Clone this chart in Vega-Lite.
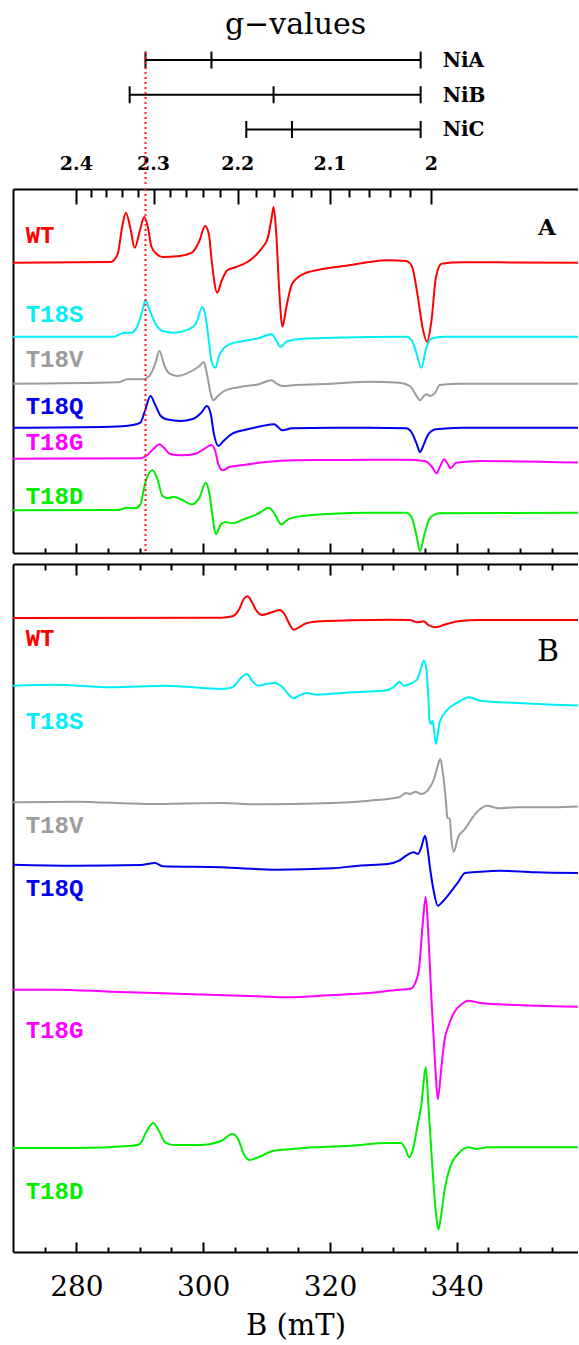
{
  "$schema": "https://vega.github.io/schema/vega-lite/v6.json",
  "background": "white",
  "padding": {"left": 13, "top": 10, "right": 0, "bottom": 0},
  "config": {
    "view": {"stroke": null},
    "font": "DejaVu Serif",
    "axis": {"grid": false, "domain": false, "tickColor": "black", "tickWidth": 2, "domainColor": "black", "domainWidth": 2}
  },
  "datasets": {
    "bars": [
      {"center": "NiA", "lo": 290.9, "hi": 334.3},
      {"center": "NiB", "lo": 288.4, "hi": 334.3},
      {"center": "NiC", "lo": 306.8, "hi": 334.3}
    ],
    "gmarks": [
      {"center": "NiA", "B": 290.9}, {"center": "NiA", "B": 301.3}, {"center": "NiA", "B": 334.3},
      {"center": "NiB", "B": 288.4}, {"center": "NiB", "B": 311.1}, {"center": "NiB", "B": 334.3},
      {"center": "NiC", "B": 306.8}, {"center": "NiC", "B": 314.0}, {"center": "NiC", "B": 334.3}
    ],
    "glabels": [
      {"g": "2.4", "B": 280}, {"g": "2.3", "B": 292.17}, {"g": "2.2", "B": 305.45}, {"g": "2.1", "B": 320}, {"g": "2", "B": 336}
    ],
    "ref": [{"g": 2.31, "B": 290.9}],
    "labA": [
      {"s": "WT", "h": 317}, {"s": "T18S", "h": 238}, {"s": "T18V", "h": 193},
      {"s": "T18Q", "h": 146}, {"s": "T18G", "h": 110}, {"s": "T18D", "h": 56}
    ],
    "labB": [
      {"s": "WT", "h": 613}, {"s": "T18S", "h": 530}, {"s": "T18V", "h": 426},
      {"s": "T18Q", "h": 363}, {"s": "T18G", "h": 221}, {"s": "T18D", "h": 60}
    ],
    "a": [
      {"s":"WT","B":270,"h":290.3},{"s":"WT","B":285.4,"h":291},{"s":"WT","B":286.5,"h":298.7},{"s":"WT","B":287.2,"h":325.3},{"s":"WT","B":287.8,"h":340.3},{"s":"WT","B":288.5,"h":325.3},{"s":"WT","B":289.2,"h":305.3},{"s":"WT","B":290.0,"h":322},{"s":"WT","B":290.7,"h":336},{"s":"WT","B":291.3,"h":325.3},{"s":"WT","B":291.8,"h":307},{"s":"WT","B":292.7,"h":298.7},{"s":"WT","B":293.6,"h":296},{"s":"WT","B":295.9,"h":296.7},{"s":"WT","B":298.2,"h":300.3},{"s":"WT","B":299.4,"h":312},{"s":"WT","B":300.3,"h":327},{"s":"WT","B":300.9,"h":318.7},{"s":"WT","B":301.4,"h":288.7},{"s":"WT","B":302.2,"h":260.3},{"s":"WT","B":302.9,"h":272},{"s":"WT","B":303.8,"h":282.7},{"s":"WT","B":305.2,"h":286},{"s":"WT","B":307.6,"h":293.7},{"s":"WT","B":309.3,"h":305.3},{"s":"WT","B":310.2,"h":315.3},{"s":"WT","B":310.8,"h":335.3},{"s":"WT","B":311.1,"h":346},{"s":"WT","B":311.5,"h":322},{"s":"WT","B":312.0,"h":262},{"s":"WT","B":312.5,"h":226.3},{"s":"WT","B":313.1,"h":245.3},{"s":"WT","B":314.0,"h":268.7},{"s":"WT","B":315.7,"h":278.7},{"s":"WT","B":318.6,"h":283.7},{"s":"WT","B":323.3,"h":288},{"s":"WT","B":326.2,"h":291},{"s":"WT","B":329.1,"h":292.7},{"s":"WT","B":332.0,"h":292},{"s":"WT","B":332.9,"h":287},{"s":"WT","B":333.8,"h":258.7},{"s":"WT","B":334.6,"h":225.3},{"s":"WT","B":335.3,"h":211.3},{"s":"WT","B":336.0,"h":232},{"s":"WT","B":336.7,"h":275.3},{"s":"WT","B":337.6,"h":289.3},{"s":"WT","B":340.8,"h":290.7},{"s":"WT","B":360,"h":290.3},
      {"s":"T18S","B":270,"h":216.3},{"s":"T18S","B":286.0,"h":216.3},{"s":"T18S","B":286.6,"h":218},{"s":"T18S","B":287.5,"h":220.3},{"s":"T18S","B":288.6,"h":220.3},{"s":"T18S","B":289.5,"h":225.3},{"s":"T18S","B":290.4,"h":242},{"s":"T18S","B":290.9,"h":253},{"s":"T18S","B":291.5,"h":243.7},{"s":"T18S","B":292.4,"h":230.3},{"s":"T18S","B":293.6,"h":222},{"s":"T18S","B":295.3,"h":220.3},{"s":"T18S","B":297.7,"h":223.7},{"s":"T18S","B":298.8,"h":228.7},{"s":"T18S","B":299.9,"h":246},{"s":"T18S","B":300.3,"h":238.7},{"s":"T18S","B":300.9,"h":212},{"s":"T18S","B":301.3,"h":192},{"s":"T18S","B":301.9,"h":185.3},{"s":"T18S","B":302.6,"h":198.7},{"s":"T18S","B":304.1,"h":208.7},{"s":"T18S","B":306.4,"h":212},{"s":"T18S","B":308.7,"h":214.7},{"s":"T18S","B":310.8,"h":218.7},{"s":"T18S","B":311.5,"h":212.7},{"s":"T18S","B":312.2,"h":206},{"s":"T18S","B":313.1,"h":211.3},{"s":"T18S","B":315.7,"h":214.3},{"s":"T18S","B":320.4,"h":215.3},{"s":"T18S","B":326.2,"h":216},{"s":"T18S","B":332.0,"h":216.3},{"s":"T18S","B":332.9,"h":212.7},{"s":"T18S","B":333.7,"h":198.7},{"s":"T18S","B":334.4,"h":185.3},{"s":"T18S","B":335.2,"h":205.3},{"s":"T18S","B":336.1,"h":214.7},{"s":"T18S","B":337.9,"h":216.3},{"s":"T18S","B":360,"h":216.3},
      {"s":"T18V","B":270,"h":169.3},{"s":"T18V","B":286.6,"h":170.7},{"s":"T18V","B":288.0,"h":173.7},{"s":"T18V","B":290.4,"h":173.7},{"s":"T18V","B":291.5,"h":177},{"s":"T18V","B":292.4,"h":188.7},{"s":"T18V","B":293.1,"h":202},{"s":"T18V","B":293.9,"h":187},{"s":"T18V","B":294.7,"h":179.3},{"s":"T18V","B":295.9,"h":177},{"s":"T18V","B":297.7,"h":180.3},{"s":"T18V","B":299.4,"h":187},{"s":"T18V","B":300.1,"h":191},{"s":"T18V","B":300.6,"h":178.7},{"s":"T18V","B":301.2,"h":158.7},{"s":"T18V","B":301.6,"h":152.7},{"s":"T18V","B":302.3,"h":157},{"s":"T18V","B":303.5,"h":162.7},{"s":"T18V","B":305.8,"h":166},{"s":"T18V","B":308.7,"h":168.7},{"s":"T18V","B":310.8,"h":172.7},{"s":"T18V","B":311.6,"h":169.3},{"s":"T18V","B":312.5,"h":167},{"s":"T18V","B":314.5,"h":168},{"s":"T18V","B":320.4,"h":169.3},{"s":"T18V","B":326.2,"h":171.3},{"s":"T18V","B":330.9,"h":170.3},{"s":"T18V","B":332.6,"h":167},{"s":"T18V","B":333.5,"h":158.7},{"s":"T18V","B":334.2,"h":152.7},{"s":"T18V","B":334.8,"h":157},{"s":"T18V","B":335.2,"h":158.7},{"s":"T18V","B":335.8,"h":157},{"s":"T18V","B":336.6,"h":160.3},{"s":"T18V","B":337.3,"h":168},{"s":"T18V","B":340.8,"h":169.3},{"s":"T18V","B":360,"h":169.3},
      {"s":"T18Q","B":270,"h":125.3},{"s":"T18Q","B":285.4,"h":126.3},{"s":"T18Q","B":288.9,"h":128},{"s":"T18Q","B":290.1,"h":130.3},{"s":"T18Q","B":290.8,"h":142},{"s":"T18Q","B":291.7,"h":157},{"s":"T18Q","B":292.4,"h":148.7},{"s":"T18Q","B":293.3,"h":137},{"s":"T18Q","B":294.2,"h":133.7},{"s":"T18Q","B":296.5,"h":132},{"s":"T18Q","B":298.2,"h":133.7},{"s":"T18Q","B":299.7,"h":140.3},{"s":"T18Q","B":300.6,"h":147},{"s":"T18Q","B":301.2,"h":138.7},{"s":"T18Q","B":301.7,"h":118.7},{"s":"T18Q","B":302.4,"h":107},{"s":"T18Q","B":303.2,"h":112},{"s":"T18Q","B":304.6,"h":119.3},{"s":"T18Q","B":307.0,"h":123.7},{"s":"T18Q","B":309.3,"h":127},{"s":"T18Q","B":311.2,"h":128.7},{"s":"T18Q","B":311.9,"h":125.3},{"s":"T18Q","B":312.5,"h":122.7},{"s":"T18Q","B":314.0,"h":124.7},{"s":"T18Q","B":320.4,"h":125.3},{"s":"T18Q","B":326.2,"h":125.3},{"s":"T18Q","B":332.0,"h":124.7},{"s":"T18Q","B":332.9,"h":120.3},{"s":"T18Q","B":333.7,"h":108.7},{"s":"T18Q","B":334.2,"h":101},{"s":"T18Q","B":334.8,"h":108.7},{"s":"T18Q","B":335.5,"h":118.7},{"s":"T18Q","B":336.7,"h":123.7},{"s":"T18Q","B":340.8,"h":125.3},{"s":"T18Q","B":360,"h":125.3},
      {"s":"T18G","B":270,"h":94.3},{"s":"T18G","B":290.1,"h":94.7},{"s":"T18G","B":291.0,"h":97},{"s":"T18G","B":292.1,"h":103.7},{"s":"T18G","B":293.1,"h":108.7},{"s":"T18G","B":293.9,"h":104.7},{"s":"T18G","B":294.7,"h":99.3},{"s":"T18G","B":296.5,"h":97.7},{"s":"T18G","B":298.8,"h":99.3},{"s":"T18G","B":300.3,"h":104.7},{"s":"T18G","B":301.3,"h":108},{"s":"T18G","B":301.9,"h":102},{"s":"T18G","B":302.4,"h":88.7},{"s":"T18G","B":303.1,"h":82.7},{"s":"T18G","B":304.1,"h":86},{"s":"T18G","B":306.4,"h":88},{"s":"T18G","B":309.9,"h":91},{"s":"T18G","B":314.5,"h":92.7},{"s":"T18G","B":320.4,"h":93},{"s":"T18G","B":326.2,"h":93.3},{"s":"T18G","B":332.0,"h":93.3},{"s":"T18G","B":334.9,"h":92},{"s":"T18G","B":336.1,"h":86},{"s":"T18G","B":336.8,"h":79.7},{"s":"T18G","B":337.4,"h":87},{"s":"T18G","B":338.0,"h":93.7},{"s":"T18G","B":338.6,"h":88.7},{"s":"T18G","B":339.0,"h":84.7},{"s":"T18G","B":339.9,"h":90.3},{"s":"T18G","B":343.7,"h":92},{"s":"T18G","B":360,"h":90.3},
      {"s":"T18D","B":270,"h":42.7},{"s":"T18D","B":286.6,"h":43},{"s":"T18D","B":288.0,"h":45.3},{"s":"T18D","B":289.2,"h":44.7},{"s":"T18D","B":290.1,"h":48.7},{"s":"T18D","B":290.8,"h":68.7},{"s":"T18D","B":292.0,"h":82.7},{"s":"T18D","B":292.7,"h":75.3},{"s":"T18D","B":293.6,"h":57},{"s":"T18D","B":294.5,"h":54.7},{"s":"T18D","B":295.3,"h":56.3},{"s":"T18D","B":296.5,"h":53.7},{"s":"T18D","B":298.2,"h":48.7},{"s":"T18D","B":299.4,"h":55.3},{"s":"T18D","B":300.4,"h":70.3},{"s":"T18D","B":301.0,"h":58.7},{"s":"T18D","B":301.5,"h":35.3},{"s":"T18D","B":302.0,"h":18.7},{"s":"T18D","B":302.8,"h":28.7},{"s":"T18D","B":303.5,"h":31},{"s":"T18D","B":304.6,"h":29.7},{"s":"T18D","B":306.4,"h":33.7},{"s":"T18D","B":308.7,"h":39.3},{"s":"T18D","B":310.4,"h":45.3},{"s":"T18D","B":311.3,"h":38.7},{"s":"T18D","B":312.3,"h":28.7},{"s":"T18D","B":313.4,"h":33.7},{"s":"T18D","B":315.7,"h":37},{"s":"T18D","B":320.4,"h":39.3},{"s":"T18D","B":326.2,"h":40.3},{"s":"T18D","B":332.0,"h":40.3},{"s":"T18D","B":332.9,"h":35.3},{"s":"T18D","B":333.6,"h":18.7},{"s":"T18D","B":334.2,"h":2},{"s":"T18D","B":334.9,"h":18.7},{"s":"T18D","B":335.8,"h":35.3},{"s":"T18D","B":337.3,"h":39.7},{"s":"T18D","B":360,"h":40.3}
    ],
    "b": [
      {"s":"WT","B":270,"h":634},{"s":"WT","B":302.9,"h":634.3},{"s":"WT","B":304.6,"h":635.7},{"s":"WT","B":305.7,"h":643},{"s":"WT","B":306.4,"h":653},{"s":"WT","B":307.0,"h":655.7},{"s":"WT","B":307.7,"h":649.7},{"s":"WT","B":308.4,"h":641.3},{"s":"WT","B":309.3,"h":637},{"s":"WT","B":310.5,"h":639},{"s":"WT","B":312.1,"h":642},{"s":"WT","B":312.8,"h":638},{"s":"WT","B":313.6,"h":628},{"s":"WT","B":314.3,"h":622.3},{"s":"WT","B":315.1,"h":624.7},{"s":"WT","B":316.3,"h":628.7},{"s":"WT","B":318.6,"h":630.7},{"s":"WT","B":323.3,"h":631.7},{"s":"WT","B":329.1,"h":632.3},{"s":"WT","B":332.6,"h":632},{"s":"WT","B":333.8,"h":629.7},{"s":"WT","B":334.8,"h":630.7},{"s":"WT","B":335.5,"h":627},{"s":"WT","B":336.7,"h":624.7},{"s":"WT","B":337.9,"h":627},{"s":"WT","B":340.2,"h":630.7},{"s":"WT","B":343.7,"h":632},{"s":"WT","B":360,"h":632},
      {"s":"T18S","B":270,"h":566.3},{"s":"T18S","B":276.7,"h":567.3},{"s":"T18S","B":285.4,"h":564.7},{"s":"T18S","B":294.2,"h":566.3},{"s":"T18S","B":302.9,"h":563},{"s":"T18S","B":304.6,"h":564.7},{"s":"T18S","B":305.8,"h":573},{"s":"T18S","B":306.9,"h":578},{"s":"T18S","B":307.7,"h":571.3},{"s":"T18S","B":308.7,"h":566.3},{"s":"T18S","B":309.9,"h":568},{"s":"T18S","B":311.3,"h":569},{"s":"T18S","B":312.5,"h":564.7},{"s":"T18S","B":313.4,"h":558},{"s":"T18S","B":314.3,"h":553.7},{"s":"T18S","B":315.1,"h":556.3},{"s":"T18S","B":316.3,"h":559},{"s":"T18S","B":318.0,"h":557.3},{"s":"T18S","B":323.3,"h":559.7},{"s":"T18S","B":328.5,"h":561.3},{"s":"T18S","B":330.0,"h":564.7},{"s":"T18S","B":331.0,"h":570.3},{"s":"T18S","B":331.6,"h":566.3},{"s":"T18S","B":332.6,"h":568},{"s":"T18S","B":333.8,"h":573},{"s":"T18S","B":334.4,"h":584.7},{"s":"T18S","B":334.8,"h":591.3},{"s":"T18S","B":335.2,"h":583},{"s":"T18S","B":335.5,"h":556.3},{"s":"T18S","B":335.7,"h":531.3},{"s":"T18S","B":336.0,"h":528},{"s":"T18S","B":336.2,"h":531.3},{"s":"T18S","B":336.7,"h":508},{"s":"T18S","B":337.3,"h":529.7},{"s":"T18S","B":338.4,"h":541.3},{"s":"T18S","B":340.2,"h":549.7},{"s":"T18S","B":341.9,"h":554.7},{"s":"T18S","B":343.7,"h":551.3},{"s":"T18S","B":349.5,"h":549},{"s":"T18S","B":355.3,"h":547.3},{"s":"T18S","B":360,"h":546.3},
      {"s":"T18V","B":270,"h":449.7},{"s":"T18V","B":279.6,"h":450.3},{"s":"T18V","B":291.3,"h":448},{"s":"T18V","B":302.9,"h":449},{"s":"T18V","B":308.7,"h":447.7},{"s":"T18V","B":320.4,"h":449},{"s":"T18V","B":326.2,"h":451.3},{"s":"T18V","B":330.9,"h":454.7},{"s":"T18V","B":332.0,"h":459},{"s":"T18V","B":332.6,"h":458},{"s":"T18V","B":333.5,"h":460.3},{"s":"T18V","B":334.4,"h":458},{"s":"T18V","B":335.5,"h":462.3},{"s":"T18V","B":336.4,"h":473},{"s":"T18V","B":337.0,"h":486.3},{"s":"T18V","B":337.4,"h":493},{"s":"T18V","B":337.8,"h":479.7},{"s":"T18V","B":338.3,"h":449.7},{"s":"T18V","B":338.5,"h":434.7},{"s":"T18V","B":338.9,"h":433},{"s":"T18V","B":339.1,"h":416.3},{"s":"T18V","B":339.5,"h":400.3},{"s":"T18V","B":340.2,"h":414.7},{"s":"T18V","B":341.3,"h":423},{"s":"T18V","B":342.5,"h":434.7},{"s":"T18V","B":343.7,"h":443},{"s":"T18V","B":344.8,"h":446.3},{"s":"T18V","B":346.6,"h":443.7},{"s":"T18V","B":349.5,"h":444.7},{"s":"T18V","B":355.3,"h":444.7},{"s":"T18V","B":360,"h":445.7},
      {"s":"T18Q","B":270,"h":387.3},{"s":"T18Q","B":279.6,"h":386.3},{"s":"T18Q","B":290.1,"h":387},{"s":"T18Q","B":292.4,"h":389},{"s":"T18Q","B":293.6,"h":385.7},{"s":"T18Q","B":302.9,"h":384.7},{"s":"T18Q","B":311.6,"h":382.3},{"s":"T18Q","B":320.4,"h":383.7},{"s":"T18Q","B":324.5,"h":386.3},{"s":"T18Q","B":329.1,"h":388},{"s":"T18Q","B":330.9,"h":391.3},{"s":"T18Q","B":332.0,"h":396.3},{"s":"T18Q","B":333.2,"h":399.7},{"s":"T18Q","B":333.9,"h":398},{"s":"T18Q","B":334.4,"h":404.7},{"s":"T18Q","B":335.0,"h":416.3},{"s":"T18Q","B":335.4,"h":403},{"s":"T18Q","B":335.8,"h":383},{"s":"T18Q","B":336.4,"h":359.7},{"s":"T18Q","B":337.0,"h":346.3},{"s":"T18Q","B":337.9,"h":351.3},{"s":"T18Q","B":339.0,"h":359.7},{"s":"T18Q","B":340.2,"h":369.7},{"s":"T18Q","B":341.3,"h":379},{"s":"T18Q","B":343.7,"h":380.3},{"s":"T18Q","B":346.6,"h":381.3},{"s":"T18Q","B":352.4,"h":379.7},{"s":"T18Q","B":360,"h":379},
      {"s":"T18G","B":270,"h":262.3},{"s":"T18G","B":276.7,"h":262.3},{"s":"T18G","B":285.4,"h":260.3},{"s":"T18G","B":297.1,"h":258},{"s":"T18G","B":308.7,"h":255.7},{"s":"T18G","B":313.4,"h":254.7},{"s":"T18G","B":320.4,"h":257},{"s":"T18G","B":326.2,"h":259},{"s":"T18G","B":330.9,"h":262.3},{"s":"T18G","B":332.6,"h":263},{"s":"T18G","B":333.5,"h":269.7},{"s":"T18G","B":334.1,"h":286.3},{"s":"T18G","B":334.6,"h":326.3},{"s":"T18G","B":335.1,"h":355},{"s":"T18G","B":335.5,"h":319.7},{"s":"T18G","B":336.0,"h":253},{"s":"T18G","B":336.6,"h":186.3},{"s":"T18G","B":337.0,"h":153},{"s":"T18G","B":337.6,"h":186.3},{"s":"T18G","B":338.1,"h":213},{"s":"T18G","B":338.7,"h":226.3},{"s":"T18G","B":339.6,"h":239.7},{"s":"T18G","B":340.8,"h":248},{"s":"T18G","B":341.8,"h":251.3},{"s":"T18G","B":343.7,"h":249},{"s":"T18G","B":349.5,"h":247},{"s":"T18G","B":355.3,"h":245.7},{"s":"T18G","B":360,"h":245.3},
      {"s":"T18D","B":270,"h":104},{"s":"T18D","B":279.6,"h":104},{"s":"T18D","B":288.9,"h":106.3},{"s":"T18D","B":290.0,"h":108},{"s":"T18D","B":291.0,"h":119.7},{"s":"T18D","B":292.1,"h":129},{"s":"T18D","B":293.0,"h":121.3},{"s":"T18D","B":294.0,"h":109.7},{"s":"T18D","B":295.3,"h":107},{"s":"T18D","B":299.4,"h":107},{"s":"T18D","B":302.9,"h":111.3},{"s":"T18D","B":304.6,"h":118},{"s":"T18D","B":305.5,"h":113},{"s":"T18D","B":306.4,"h":98},{"s":"T18D","B":307.3,"h":92},{"s":"T18D","B":308.7,"h":94.7},{"s":"T18D","B":311.1,"h":101.3},{"s":"T18D","B":314.0,"h":103},{"s":"T18D","B":317.5,"h":104.7},{"s":"T18D","B":323.3,"h":106.3},{"s":"T18D","B":329.1,"h":109},{"s":"T18D","B":331.2,"h":109},{"s":"T18D","B":331.9,"h":103},{"s":"T18D","B":332.5,"h":94.7},{"s":"T18D","B":333.1,"h":103},{"s":"T18D","B":333.8,"h":126.3},{"s":"T18D","B":334.4,"h":146.3},{"s":"T18D","B":335.1,"h":185},{"s":"T18D","B":335.5,"h":149.7},{"s":"T18D","B":336.1,"h":89.7},{"s":"T18D","B":336.7,"h":39.7},{"s":"T18D","B":337.1,"h":22.3},{"s":"T18D","B":337.6,"h":39.7},{"s":"T18D","B":338.1,"h":63},{"s":"T18D","B":339.0,"h":86},{"s":"T18D","B":340.2,"h":98},{"s":"T18D","B":341.9,"h":104.7},{"s":"T18D","B":343.1,"h":103},{"s":"T18D","B":344.8,"h":104.7},{"s":"T18D","B":360,"h":104.7}
    ]
  },
  "spacing": 0,
  "vconcat": [
    {
      "width": 565,
      "height": 135,
      "title": {"text": "g−values", "fontSize": 30, "fontWeight": "normal", "font": "DejaVu Serif", "anchor": "middle", "offset": 11, "color": "black"},
      "layer": [
        {
          "data": {"name": "bars"},
          "mark": {"type": "rule", "strokeWidth": 2, "color": "black"},
          "encoding": {
            "x": {"field": "lo", "type": "quantitative", "scale": {"domain": [270, 359.12], "nice": false, "zero": false}, "axis": null},
            "x2": {"field": "hi"},
            "y": {"field": "center", "type": "ordinal", "scale": {"type": "point", "domain": ["NiA", "NiB", "NiC", "g"], "padding": 0.445, "align": 0.26}, "axis": null}
          }
        },
        {
          "data": {"name": "gmarks"},
          "mark": {"type": "tick", "orient": "vertical", "size": 17, "thickness": 2, "color": "black", "opacity": 1},
          "encoding": {
            "x": {"field": "B", "type": "quantitative"},
            "y": {"field": "center", "type": "ordinal"}
          }
        },
        {
          "data": {"name": "bars"},
          "mark": {"type": "text", "align": "left", "baseline": "middle", "dx": 22, "dy": 1, "fontSize": 20, "fontWeight": "bold", "font": "DejaVu Serif", "color": "black"},
          "encoding": {
            "x": {"field": "hi", "type": "quantitative"},
            "y": {"field": "center", "type": "ordinal"},
            "text": {"field": "center"}
          }
        },
        {
          "data": {"name": "glabels"},
          "mark": {"type": "text", "baseline": "middle", "fontSize": 19, "fontWeight": "bold", "font": "DejaVu Serif", "color": "black"},
          "encoding": {
            "x": {"field": "B", "type": "quantitative"},
            "y": {"datum": "g", "type": "ordinal"},
            "text": {"field": "g"}
          }
        },
        {
          "data": {"name": "ref"},
          "mark": {"type": "rule", "color": "#ff1a1a", "strokeDash": [2, 3], "strokeWidth": 2},
          "encoding": {"x": {"field": "B", "type": "quantitative"}}
        }
      ]
    },
    {
      "spacing": 9,
      "vconcat": [
        {
          "width": 565,
          "height": 364,
          "resolve": {"axis": {"x": "independent"}},
          "layer": [
            {
              "data": {"name": "a"},
              "mark": {"type": "line", "strokeWidth": 2, "interpolate": "monotone", "clip": true},
              "encoding": {
                "x": {"field": "B", "type": "quantitative", "scale": {"domain": [270, 359.12], "nice": false, "zero": false},
                      "axis": {"orient": "bottom", "values": [280, 300, 320, 340], "tickSize": -10, "labels": false, "title": null, "domain": true}},
                "y": {"field": "h", "type": "quantitative", "scale": {"domain": [0, 364], "nice": false, "zero": false},
                      "axis": {"orient": "left", "domain": true, "ticks": false, "labels": false, "title": null}},
                "color": {"field": "s", "type": "nominal", "legend": null,
                          "scale": {"domain": ["WT", "T18S", "T18V", "T18Q", "T18G", "T18D"], "range": ["#ff0000", "#00eef6", "#9c9c9c", "#0000ee", "#ff00ff", "#00ee00"]}}
              }
            },
            {
              "data": {"name": "ref"},
              "mark": {"type": "rule", "color": "#ff1a1a", "strokeDash": [2, 3], "strokeWidth": 2},
              "encoding": {
                "x": {"field": "B", "type": "quantitative",
                      "axis": {"orient": "bottom", "values": [275, 285, 290, 295, 305, 310, 315, 325, 330, 335, 345, 350, 355], "tickSize": -5, "labels": false, "title": null}}
              }
            },
            {
              "data": {"name": "labA"},
              "mark": {"type": "text", "align": "left", "baseline": "middle", "font": "Liberation Mono", "fontSize": 24, "fontWeight": "bold"},
              "encoding": {
                "x": {"datum": 272, "type": "quantitative",
                      "axis": {"orient": "top", "values": [280, 292.1739, 305.4545, 320, 336], "tickSize": -15, "labels": false, "title": null, "domain": true}},
                "y": {"field": "h", "type": "quantitative"},
                "text": {"field": "s"},
                "color": {"field": "s", "type": "nominal", "legend": null}
              }
            },
            {
              "data": {"values": [{"panel": "A"}]},
              "mark": {"type": "text", "align": "center", "baseline": "middle", "font": "DejaVu Serif", "fontSize": 23, "fontWeight": "bold", "color": "black"},
              "encoding": {
                "x": {"datum": 354.2, "type": "quantitative",
                      "axis": {"orient": "top", "values": [282.353, 284.746, 287.179, 289.655, 294.737, 297.345, 300.0, 302.703, 308.257, 311.111, 314.019, 316.981, 323.077, 326.214, 329.412, 332.673], "tickSize": -8, "labels": false, "title": null}},
                "y": {"datum": 325, "type": "quantitative"},
                "text": {"field": "panel"}
              }
            }
          ]
        },
        {
          "width": 565,
          "height": 688,
          "resolve": {"axis": {"x": "independent"}},
          "layer": [
            {
              "data": {"name": "b"},
              "mark": {"type": "line", "strokeWidth": 2, "interpolate": "monotone", "clip": true},
              "encoding": {
                "x": {"field": "B", "type": "quantitative", "scale": {"domain": [270, 359.12], "nice": false, "zero": false},
                      "axis": {"orient": "bottom", "values": [280, 300, 320, 340], "tickSize": -10, "domain": true, "labelPadding": 31, "labelFont": "DejaVu Serif", "labelFontSize": 28, "labelColor": "black",
                               "title": "B (mT)", "titleFont": "DejaVu Serif", "titleFontSize": 29, "titleFontWeight": "normal", "titleColor": "black", "titlePadding": 10}},
                "y": {"field": "h", "type": "quantitative", "scale": {"domain": [0, 688], "nice": false, "zero": false},
                      "axis": {"orient": "left", "domain": true, "ticks": false, "labels": false, "title": null}},
                "color": {"field": "s", "type": "nominal", "legend": null,
                          "scale": {"domain": ["WT", "T18S", "T18V", "T18Q", "T18G", "T18D"], "range": ["#ff0000", "#00eef6", "#9c9c9c", "#0000ee", "#ff00ff", "#00ee00"]}}
              }
            },
            {
              "data": {"name": "labB"},
              "mark": {"type": "text", "align": "left", "baseline": "middle", "font": "Liberation Mono", "fontSize": 24, "fontWeight": "bold"},
              "encoding": {
                "x": {"datum": 272, "type": "quantitative",
                      "axis": {"orient": "bottom", "values": [275, 285, 290, 295, 305, 310, 315, 325, 330, 335, 345, 350, 355], "tickSize": -5, "labels": false, "title": null}},
                "y": {"field": "h", "type": "quantitative"},
                "text": {"field": "s"},
                "color": {"field": "s", "type": "nominal", "legend": null}
              }
            },
            {
              "data": {"values": [{"panel": "B"}]},
              "mark": {"type": "text", "align": "center", "baseline": "middle", "font": "DejaVu Serif", "fontSize": 30, "fontWeight": "normal", "color": "black"},
              "encoding": {
                "x": {"datum": 354.4, "type": "quantitative",
                      "axis": {"orient": "top", "values": [275, 280, 285, 290, 295, 300, 305, 310, 315, 320, 325, 330, 335, 340, 345, 350, 355], "domain": true,
                               "tickSize": {"condition": {"test": "datum.value % 20 === 0", "value": -11}, "value": -6}, "labels": false, "title": null}},
                "y": {"datum": 600, "type": "quantitative"},
                "text": {"field": "panel"}
              }
            }
          ]
        }
      ]
    }
  ]
}
